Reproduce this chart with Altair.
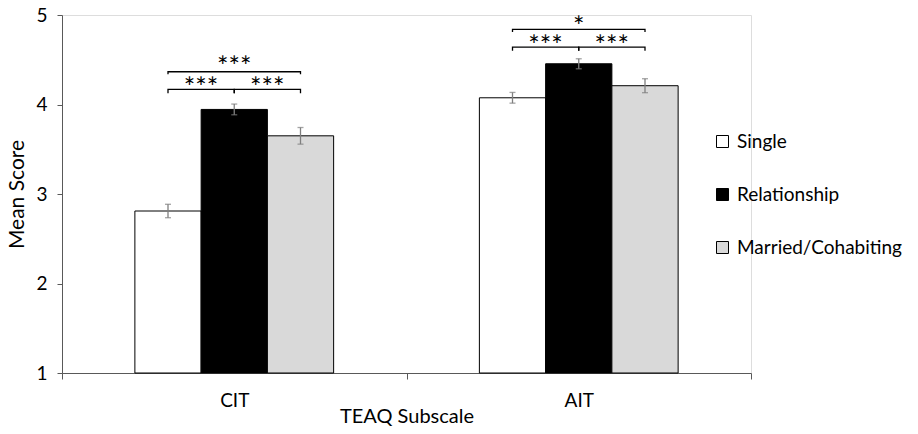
import altair as alt
import pandas as pd

# ---- data ----
subscales = ["CIT", "AIT"]
groups = ["Single", "Relationship", "Married/Cohabiting"]
colors = ["#ffffff", "#000000", "#d9d9d9"]

means_cit = [2.81, 3.945, 3.65]
means_ait = [4.075, 4.455, 4.21]
err_cit = [0.075, 0.06, 0.093]
err_ait = [0.06, 0.056, 0.078]

# significance brackets: subscale, left group, right group, line level, end level, label, label level
br_subscale = ["CIT", "CIT", "CIT", "AIT", "AIT", "AIT"]
br_left = ["Single", "Relationship", "Single", "Single", "Relationship", "Single"]
br_right = ["Relationship", "Married/Cohabiting", "Married/Cohabiting",
            "Relationship", "Married/Cohabiting", "Married/Cohabiting"]
br_line = [4.17, 4.17, 4.366, 4.64, 4.64, 4.84]
br_end = [4.125, 4.125, 4.337, 4.60, 4.60, 4.81]
br_label = ["***", "***", "***", "***", "***", "*"]
br_label_y = [4.27, 4.27, 4.51, 4.74, 4.74, 4.955]
br_upper = [False, False, True, False, False, True]

# ---- tables ----
rows = []
for s, means, errs in [("CIT", means_cit, err_cit), ("AIT", means_ait, err_ait)]:
    for g, m, e in zip(groups, means, errs):
        rows.append({"subscale": s, "group": g, "mean": m, "lo": m - e, "hi": m + e})
bars_df = pd.DataFrame(rows)

line_rows = []
lab_rows = []
for i in range(len(br_subscale)):
    pts = [(br_left[i], br_end[i]), (br_left[i], br_line[i]),
           (br_right[i], br_line[i]), (br_right[i], br_end[i])]
    for k, (g, v) in enumerate(pts):
        line_rows.append({"id": i, "subscale": br_subscale[i], "group": g, "y": v, "seq": k})
    lab_rows.append({"subscale": br_subscale[i],
                     "anchor": "Relationship" if br_upper[i] else br_left[i],
                     "upper": br_upper[i], "label": br_label[i], "y": br_label_y[i]})
lines_df = pd.DataFrame(line_rows)
labs_df = pd.DataFrame(lab_rows)

FONT = "Lato"
# empty slots either side of the three bars give the gap around each cluster
offset_domain = ["_pad_l"] + groups + ["_pad_r"]

def xo(field):
    return alt.XOffset(field, type="nominal",
                       scale=alt.Scale(domain=offset_domain, paddingInner=0, paddingOuter=0.1))

def xx():
    return alt.X("subscale:N", sort=subscales)

x_enc = alt.X("subscale:N", sort=subscales,
              scale=alt.Scale(paddingInner=0, paddingOuter=0),
              axis=alt.Axis(title="TEAQ Subscale", labelAngle=0, tickBand="extent",
                            tickSize=6, labelPadding=12, titlePadding=12,
                            titleBaseline="alphabetic",
                            labelFontSize=19, titleFontSize=20, titleFontWeight="normal",
                            labelFont=FONT, titleFont=FONT, labelColor="black",
                            titleColor="black", domainColor="#595959", tickColor="#595959"))
y_scale = alt.Scale(domain=[1, 5], nice=False, zero=False)
y_axis = alt.Axis(title="Mean Score", values=[1, 2, 3, 4, 5], format="d", tickSize=5,
                  grid=False, labelPadding=10, titlePadding=8, labelFontSize=19,
                  titleFontSize=21, titleFontWeight="normal", labelFont=FONT, titleFont=FONT,
                  labelColor="black", titleColor="black",
                  domainColor="#595959", tickColor="#595959")

bars = alt.Chart(bars_df).mark_bar(stroke="black", strokeWidth=1).encode(
    x=x_enc,
    xOffset=xo("group"),
    y=alt.Y("mean:Q", scale=y_scale, axis=y_axis),
    y2=alt.datum(1),
    fill=alt.Fill("group:N", sort=groups,
                  scale=alt.Scale(domain=groups, range=colors),
                  legend=alt.Legend(title=None, orient="none", legendX=651, legendY=117,
                                    symbolType="square", symbolSize=144,
                                    symbolStrokeColor="black", symbolStrokeWidth=1,
                                    labelFontSize=19, labelFont=FONT, labelColor="black",
                                    labelOffset=5, labelLimit=0, rowPadding=33)),
)

err_rule = alt.Chart(bars_df).mark_rule(color="#7f7f7f", strokeWidth=1.3).encode(
    x=xx(), xOffset=xo("group"), y="lo:Q", y2="hi:Q",
)
cap_lo = alt.Chart(bars_df).mark_tick(color="#7f7f7f", size=6, thickness=1.3).encode(
    x=xx(), xOffset=xo("group"), y="lo:Q",
)
cap_hi = alt.Chart(bars_df).mark_tick(color="#7f7f7f", size=6, thickness=1.3).encode(
    x=xx(), xOffset=xo("group"), y="hi:Q",
)

brackets = alt.Chart(lines_df).mark_line(color="black", strokeWidth=1.3).encode(
    x=xx(), xOffset=xo("group"), y="y:Q", detail="id:N", order="seq:Q",
)

lab_lower = alt.Chart(labs_df).transform_filter("!datum.upper").mark_text(
    font=FONT, fontSize=27, baseline="middle", dx=33, dy=9, color="black"
).encode(x=xx(), xOffset=xo("anchor"), y="y:Q", text="label:N")
lab_upper = alt.Chart(labs_df).transform_filter("datum.upper").mark_text(
    font=FONT, fontSize=27, baseline="middle", dy=9, color="black"
).encode(x=xx(), xOffset=xo("anchor"), y="y:Q", text="label:N")

chart = alt.layer(bars, err_rule, cap_lo, cap_hi, brackets, lab_lower, lab_upper).properties(
    width=689, height=358,
    autosize=alt.AutoSizeParams(type="none"),
    padding={"left": 54, "top": 7, "right": 159, "bottom": 53},
).configure_view(stroke=None).configure(font=FONT)

chart.save("out.html", embed_options={"renderer": "svg", "actions": False})
